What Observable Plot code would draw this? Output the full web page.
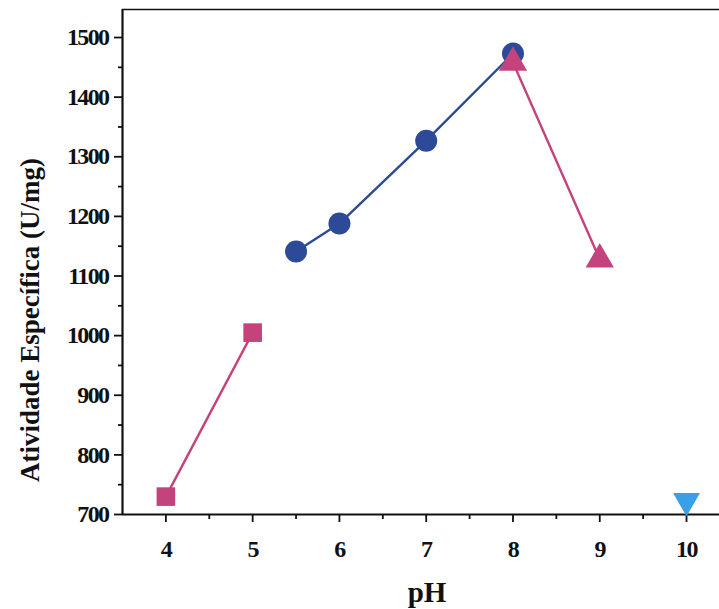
<!DOCTYPE html>
<html>
<head>
<meta charset="utf-8">
<script src="https://cdn.jsdelivr.net/npm/d3@7"></script>
<script src="https://cdn.jsdelivr.net/npm/@observablehq/plot@0.6"></script>
<style>
  html, body { margin: 0; padding: 0; background: #fff; }
  g[aria-label="y-axis tick label"], g[aria-label="x-axis tick label"] {
    font-size: 24px !important;
    letter-spacing: -1.6px;
  }
</style>
</head>
<body>
<div id="chart"></div>
<script>
// Data
const squarePH = [4, 5];
const squareVal = [730, 1005];
const circlePH = [5.5, 6, 7, 8];
const circleVal = [1141, 1188, 1327, 1473];
const triPH = [8, 9];
const triVal = [1458, 1128];
const invPH = [10];
const invVal = [723];

const xMajor = [4, 5, 6, 7, 8, 9, 10];
const xMinor = [4.5, 5.5, 6.5, 7.5, 8.5, 9.5];
const yMajor = [700, 800, 900, 1000, 1100, 1200, 1300, 1400, 1500];
const yMinor = [750, 850, 950, 1050, 1150, 1250, 1350, 1450];

const xDomain = [3.5, 10.38];
const yDomain = [700, 1547];

const yLabel = "Atividade Específica (U/mg)";
const xLabel = "pH";

const toRows = (xs, ys) => xs.map((x, i) => ({x, y: ys[i]}));
const squares = toRows(squarePH, squareVal);
const circles = toRows(circlePH, circleVal);
const tris = toRows(triPH, triVal);
const invs = toRows(invPH, invVal);

const pink = "#c4437c";
const navy = "#2c4a98";
const sky = "#3a9fe6";
const font = "'Liberation Serif', 'Times New Roman', serif";

const chart = Plot.plot({
  width: 719,
  height: 609,
  marginLeft: 122,
  marginRight: 0,
  marginTop: 9,
  marginBottom: 95,
  style: {fontFamily: font, fontWeight: "bold", color: "#111", background: "#fff", overflow: "visible"},
  x: {domain: xDomain, axis: null},
  y: {domain: yDomain, axis: null},
  marks: [
    Plot.axisY({ticks: yMajor, tickSize: 8, tickPadding: 6, fontSize: 24, label: null, strokeWidth: 1.8, tickFormat: d => String(d)}),
    Plot.axisY({ticks: yMinor, tickSize: 4, text: null, label: null, strokeWidth: 1.8}),
    Plot.axisX({ticks: xMajor, tickSize: 8, tickPadding: 17, fontSize: 24, label: null, strokeWidth: 1.8, tickFormat: d => String(d)}),
    Plot.axisX({ticks: xMinor, tickSize: 5, text: null, label: null, strokeWidth: 1.8}),
    Plot.ruleX([xDomain[0]], {stroke: "#111", strokeWidth: 2.2}),
    Plot.ruleY([yDomain[0]], {stroke: "#111", strokeWidth: 2.2}),
    Plot.ruleY([yDomain[1]], {stroke: "#111", strokeWidth: 1.6}),
    Plot.text([yLabel], {frameAnchor: "left", textAnchor: "middle", dx: -92, dy: 58, rotate: -90, fontSize: 27, fontWeight: "bold", fill: "#111", letterSpacing: "-0.8"}),
    Plot.text([xLabel], {frameAnchor: "bottom", dx: 6, dy: 87, fontSize: 29, fontWeight: "bold", fill: "#111", letterSpacing: "-1"}),
    Plot.line(squares, {x: "x", y: "y", stroke: pink, strokeWidth: 2.4}),
    Plot.line(circles, {x: "x", y: "y", stroke: navy, strokeWidth: 2.4}),
    Plot.line(tris, {x: "x", y: "y", stroke: pink, strokeWidth: 2.4}),
    Plot.dot(squares, {x: "x", y: "y", symbol: "square", r: 10.5, fill: pink}),
    Plot.dot(circles, {x: "x", y: "y", symbol: "circle", r: 11, fill: navy}),
    Plot.dot(tris, {x: "x", y: "y", symbol: "triangle", r: 10.5, fill: pink}),
    Plot.dot(invs, {x: "x", y: "y", symbol: "triangle", rotate: 180, r: 10, fill: sky})
  ]
});
document.getElementById("chart").appendChild(chart);
</script>
</body>
</html>
